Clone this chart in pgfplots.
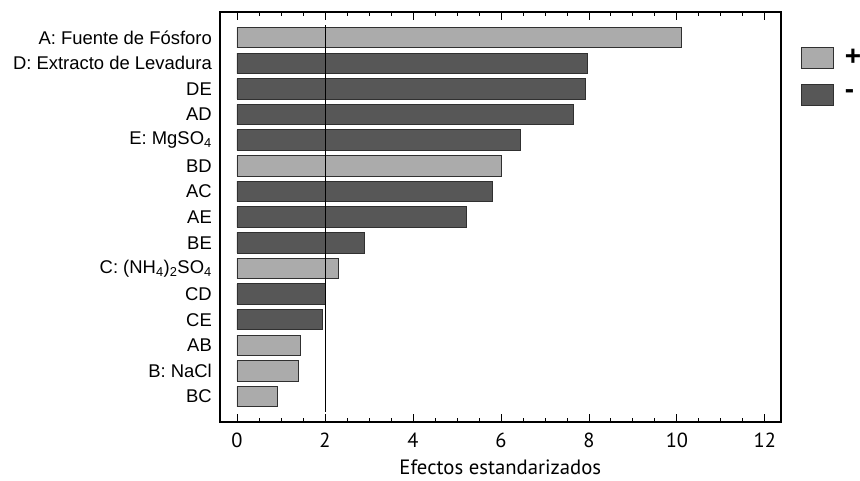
\documentclass[border=0pt]{standalone}
\usepackage{fontspec}
\setmainfont{Liberation Sans}
\newfontfamily\tickfont{PT Sans}
\usepackage{pgfplots}
\pgfplotsset{compat=1.18}

\definecolor{posbar}{HTML}{ABABAB}
\definecolor{negbar}{HTML}{575757}
\definecolor{barline}{HTML}{303030}

% positive effects (light bars), y = row index from bottom
\pgfplotstableread{
y x
14 10.11
9  6.01
5  2.31
2  1.45
1  1.39
0  0.92
}\pos
% negative effects (dark bars)
\pgfplotstableread{
y x
13 7.97
12 7.93
11 7.64
10 6.45
8  5.81
7  5.21
6  2.90
4  2.02
3  1.94
}\neg

\begin{document}
\begin{tikzpicture}
\useasboundingbox (-220bp,-59.3bp) rectangle (640bp,421.7bp);
\begin{axis}[
    at={(0,0)}, anchor=south west,
    scale only axis, width=560.7bp, height=409.7bp,
    xmin=-0.386, xmax=12.36, ymin=-0.98, ymax=15,
    axis line style={black, line width=1.6bp},
    xtick={0,2,...,12}, minor x tick num=3,
    xtick pos=both, xticklabel pos=bottom,
    tick align=inside,
    major tick length=8bp, minor tick length=4bp,
    x tick style={black, line width=0.8bp},
    ytick={0,...,14},
    y tick style={draw=none},
    yticklabels={BC, B: NaCl, AB, CE, CD, C: (NH\textsubscript{4})\textsubscript{2}SO\textsubscript{4}, BE, AE, AC, BD, E: MgSO\textsubscript{4}, AD, DE, D: Extracto de Levadura, A: Fuente de Fósforo},
    yticklabel style={font=\fontsize{18.5}{20}\selectfont, inner sep=0pt, xshift=-8bp},
    /pgf/number format/assume math mode=true,
    xticklabel style={font=\tickfont\fontsize{20.5}{22}\selectfont, inner sep=0pt, yshift=-11bp},
    xlabel={Efectos estandarizados},
    xlabel style={font=\tickfont\fontsize{20.8}{22}\selectfont, inner sep=0pt, yshift=-12bp},
    legend style={at={(1.036,0.914)}, anchor=north west, draw=none, fill=none,
        inner sep=0pt, row sep=15bp,
        font=\bfseries\fontsize{28}{28}\selectfont,
        /tikz/every odd column/.append style={column sep=9bp}},
    legend cell align=left,
    legend image code/.code={\draw[#1] (0bp,-10.5bp) rectangle (32bp,10.5bp);},
]
\addplot[xbar, bar shift=0pt, bar width=0.8, fill=posbar, draw=barline, line width=0.9bp] table[x=x, y=y] {\pos};
\addlegendentry{+}
\addplot[xbar, bar shift=0pt, bar width=0.8, fill=negbar, draw=barline, line width=0.9bp] table[x=x, y=y] {\neg};
\addlegendentry{-}
\addplot[black, line width=0.8bp, mark=none, forget plot] coordinates {(2.02,-0.6) (2.02,14.5)};
\end{axis}
\end{tikzpicture}
\end{document}
